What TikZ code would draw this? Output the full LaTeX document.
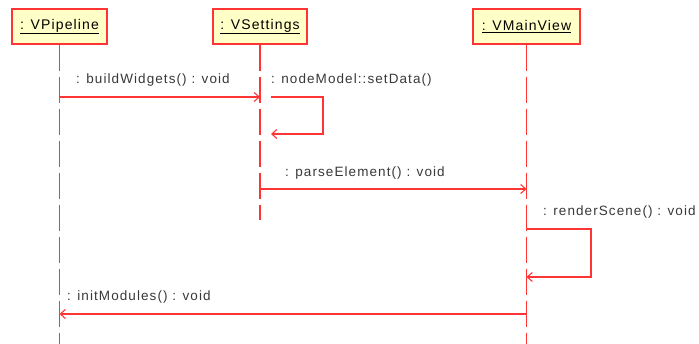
\documentclass[tikz,border=0pt]{standalone}
\usepackage{fontspec}
\setmainfont{Liberation Sans}
\newfontfamily\umlfont[LetterSpace=8]{Liberation Sans}
\usetikzlibrary{arrows.meta}
\definecolor{umlred}{HTML}{FF3535}
\definecolor{umlfill}{HTML}{FFFFC8}
\definecolor{umltext}{HTML}{383838}
\begin{document}
\begin{tikzpicture}[x=1pt,y=-1pt,
  objbox/.style={draw=umlred, fill=umlfill, line width=1.5pt, minimum height=35pt,
    inner sep=0pt, text=black, font=\fontsize{14}{16}\selectfont\umlfont},
  lifeline/.style={draw=umlred, line width=1.3pt, dash pattern=on 26pt off 6pt},
  msg/.style={draw=umlred, line width=1.1pt, -{Straight Barb[length=5pt,width=9pt]}},
  msglabel/.style={anchor=base west, inner sep=0pt, text=umltext,
    font=\fontsize{13.5}{16}\selectfont\umlfont}]
\useasboundingbox (0,0) rectangle (699,344);

% participants
\node[objbox, minimum width=95pt]  (pipe) at (59.5,26.5)  {\underline{: VPipeline}};
\node[objbox, minimum width=94pt]  (set)  at (260,26.5)   {\underline{: VSettings}};
\node[objbox, minimum width=107pt] (view) at (526.5,26.5) {\underline{: VMainView}};

% lifelines
\coordinate (pipeEnd) at (pipe.south |- 0,344);
\coordinate (setEnd)  at (set.south |- 0,220);
\coordinate (viewEnd) at (view.south |- 0,344);
\draw[lifeline] (pipe.south) -- (pipeEnd);
\draw[lifeline] (set.south)  -- (setEnd);
\draw[lifeline] (view.south) -- (viewEnd);

% buildWidgets
\coordinate (m1a) at (pipe.south |- 0,97);
\coordinate (m1b) at (set.south |- 0,97);
\draw[msg] (m1a) -- (m1b);
\node[msglabel] (l1) at (76,84) {: buildWidgets() : void};

% nodeModel::setData (self call)
\coordinate (s1a) at ([xshift=11pt]m1b);
\coordinate (s1b) at (323,97);
\coordinate (s1c) at (323,134);
\coordinate (s1d) at (s1a |- s1c);
\draw[msg] (s1a) -- (s1b) -- (s1c) -- (s1d);
\node[msglabel] (l2) at (271,84) {: nodeModel::setData()};

% parseElement
\coordinate (m3a) at (set.south |- 0,189);
\coordinate (m3b) at (view.south |- 0,189);
\draw[msg] (m3a) -- (m3b);
\node[msglabel] (l3) at (285,176.5) {: parseElement() : void};

% renderScene (self call)
\coordinate (s2a) at (view.south |- 0,229);
\coordinate (s2b) at (591,229);
\coordinate (s2c) at (591,277);
\coordinate (s2d) at (view.south |- 0,277);
\draw[msg] (s2a) -- (s2b) -- (s2c) -- (s2d);
\node[msglabel] (l4) at (543,216) {: renderScene() : void};

% initModules
\coordinate (m5a) at (view.south |- 0,314);
\coordinate (m5b) at (pipe.south |- 0,314);
\draw[msg] (m5a) -- (m5b);
\node[msglabel] (l5) at (67,301) {: initModules() : void};
\end{tikzpicture}
\end{document}
